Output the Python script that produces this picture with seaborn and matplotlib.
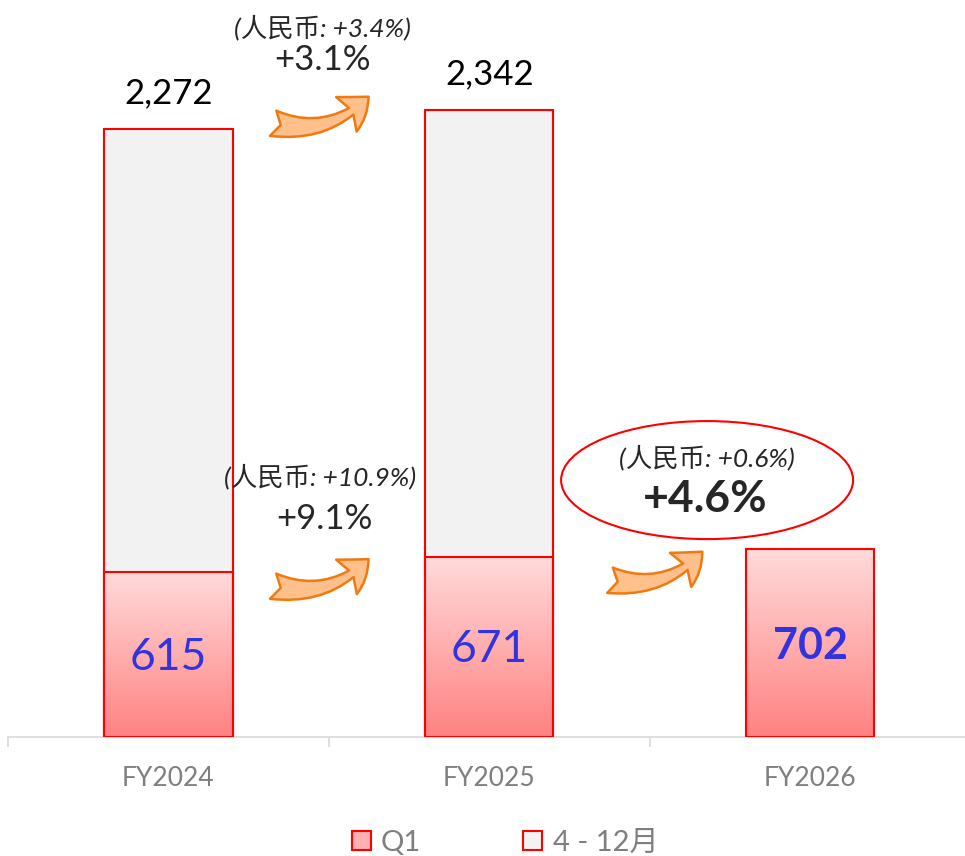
import numpy as np
import seaborn as sns
from matplotlib import pyplot as plt
from matplotlib.colors import LinearSegmentedColormap
from matplotlib.patches import Ellipse, FancyArrowPatch, Patch

years = ['FY2024', 'FY2025', 'FY2026']
q1 = [615, 671, 702]
full_year = [2272, 2342, np.nan]
yoy = ['+3.1%', '+9.1%', '+4.6%']
rmb = ['(人民币: +3.4%)', '(人民币: +10.9%)', '(人民币: +0.6%)']
legend_labels = ['Q1', '4 - 12月']

FONTS = ['Lato', 'Noto Sans CJK SC', 'DejaVu Sans']

sns.set_style('white')
plt.rcParams['font.family'] = FONTS

fig = plt.figure(figsize=(9.65, 8.56), dpi=100)
ax = fig.add_axes([8 / 965, 119 / 856, 957 / 965, 737 / 856])

red = '#FF0000'

# full-year bars (grey) drawn first, Q1 drawn over them
sns.barplot(x=years, y=full_year, order=years, color='#F2F2F2',
            edgecolor=red, linewidth=1.5, width=0.4, saturation=1, ax=ax)
for p in ax.patches:
    p.set_zorder(1)
n_before = len(ax.patches)
sns.barplot(x=years, y=q1, order=years, color='#FFB0B0',
            edgecolor=red, linewidth=1.5, width=0.4, saturation=1, ax=ax)
q1_patches = ax.patches[n_before:]

# vertical gradient fill for Q1 bars
cmap = LinearSegmentedColormap.from_list('q1', ['#FF8282', '#FFDADA'])
grad = np.linspace(0, 1, 256).reshape(-1, 1)
for p in q1_patches:
    p.set_zorder(3)
    x0, y0 = p.get_x(), p.get_y()
    w, h = p.get_width(), p.get_height()
    im = ax.imshow(grad, cmap=cmap, origin='lower', aspect='auto',
                   extent=[x0, x0 + w, y0, y0 + h], zorder=2.5)
    im.set_clip_path(p)
    p.set_facecolor('none')

ax.set_xlim(-0.5, 2 + (965 - 810) / 321)
ax.set_ylim(0, 2754)

# value labels
for i, v in enumerate(full_year):
    if not np.isnan(v):
        ax.text(i, v + 135, f'{v:,.0f}', ha='center', va='center',
                fontsize=25, color='black')
for i, v in enumerate(q1):
    bold = i == len(q1) - 1
    ax.text(i, v / 2 - 10, f'{v}', ha='center', va='center',
            fontsize=31 if bold else 32, color='#3333DD',
            fontweight='bold' if bold else 'normal', zorder=4)

# growth annotations
arrow_style = 'fancy,head_length=0.6,head_width=0.85,tail_width=0.55'
arrow_kw = dict(arrowstyle=arrow_style, connectionstyle='arc3,rad=0.3',
                mutation_scale=34, fc='#FFC08C', ec='#F07A10', lw=1.8,
                zorder=5)
ax.add_patch(FancyArrowPatch((0.318, 2296), (0.63, 2400), **arrow_kw))
ax.add_patch(FancyArrowPatch((0.318, 566), (0.63, 672), **arrow_kw))
ax.add_patch(FancyArrowPatch((1.368, 588), (1.67, 700), **arrow_kw))

ax.text(0.48, 2653, rmb[0], ha='center', va='center', fontsize=19,
        style='italic', color='#262626')
ax.text(0.48, 2528, yoy[0], ha='center', va='center', fontsize=25)
ax.text(0.473, 975, rmb[1], ha='center', va='center', fontsize=19,
        style='italic', color='#262626', zorder=6)
ax.text(0.486, 816, yoy[1], ha='center', va='center', fontsize=25)

ax.add_patch(Ellipse((1.679, 960), 0.91, 441, fc='white', ec=red,
                     lw=1.5, zorder=4))
ax.text(1.679, 1043, rmb[2], ha='center', va='center', fontsize=19,
        style='italic', color='#262626', zorder=6)
ax.text(1.673, 890, yoy[2], ha='center', va='center', fontsize=32,
        fontweight='bold', zorder=6)

# axes styling
for side in ['left', 'top', 'right']:
    ax.spines[side].set_visible(False)
ax.spines['bottom'].set_color('#D9D9D9')
ax.spines['bottom'].set_linewidth(1.2)
ax.set_yticks([])
ax.set_xticks(range(len(years)))
ax.set_xticklabels(years)
ax.set_xticks([-0.5, 0.5, 1.5], minor=True)
ax.tick_params(axis='x', which='major', length=0, pad=21,
               labelsize=19, labelcolor='#7F7F7F')
ax.tick_params(axis='x', which='minor', length=7, width=1.2,
               color='#D9D9D9', direction='out', bottom=True)
ax.set_xlabel('')
ax.set_ylabel('')

handles = [Patch(fc='#FFB0B0', ec=red, lw=1.5),
           Patch(fc='#F2F2F2', ec=red, lw=1.5)]
fig.legend(handles, legend_labels, loc='center',
           bbox_to_anchor=(505 / 965, 1 - 843 / 856), ncol=2,
           frameon=False, handlelength=0.65, handleheight=0.65,
           handletextpad=0.35, columnspacing=3.5, fontsize=21,
           labelcolor='#7F7F7F')

fig.savefig('out.png', dpi=100)
